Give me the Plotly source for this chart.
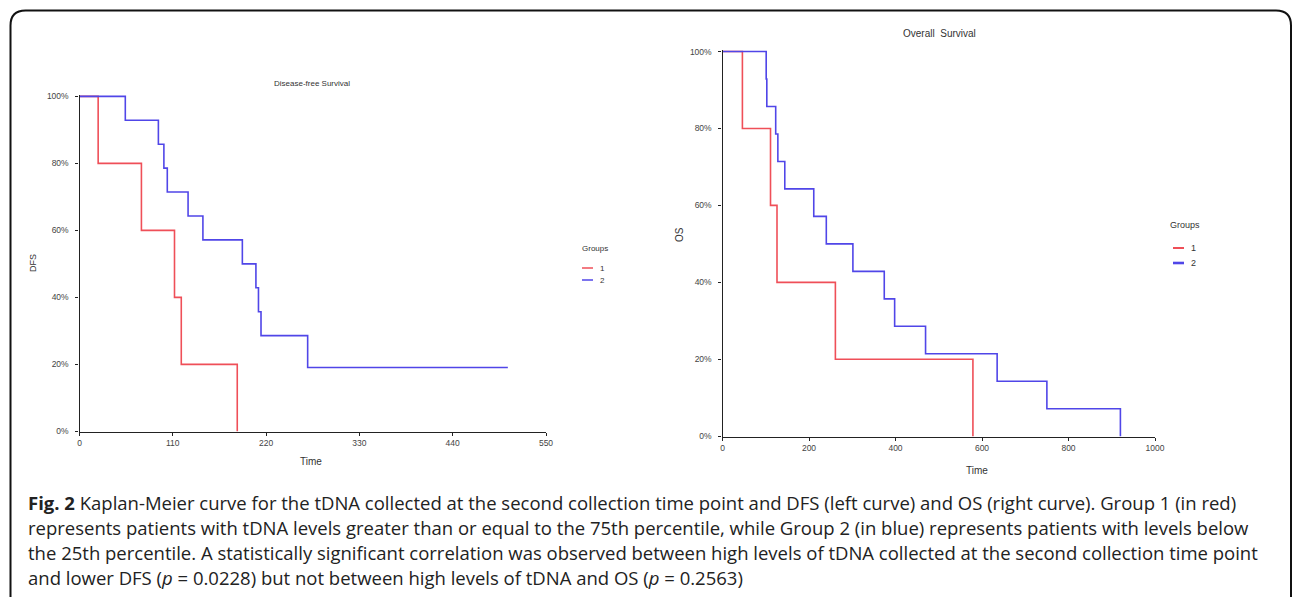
import plotly.graph_objects as go

W, H = 1293, 597

# ---------------- data ----------------
dfs_g1_time = [0, 22, 73, 112, 120, 186]
dfs_g1_surv = [1.0, 0.80, 0.60, 0.40, 0.20, 0.0]
dfs_g2_time = [0, 54, 93, 99.5, 103.5, 128, 145.5, 192, 208, 211, 214, 269, 505]
dfs_g2_surv = [1.0, 0.9286, 0.8571, 0.7857, 0.7143, 0.6429, 0.5714, 0.50, 0.4286, 0.3571, 0.2857, 0.1905, 0.1905]

os_g1_time = [0, 46, 111, 126, 261, 579]
os_g1_surv = [1.0, 0.80, 0.60, 0.40, 0.20, 0.0]
os_g2_time = [0, 101, 102.5, 123, 128, 144, 211, 240, 301.5, 374, 398, 469.5, 635, 750, 920]
os_g2_surv = [1.0, 0.9286, 0.8571, 0.7857, 0.7143, 0.6429, 0.5714, 0.50, 0.4286, 0.3571, 0.2857, 0.2143, 0.1429, 0.0714, 0.0]

y_tickvals = [0, 0.2, 0.4, 0.6, 0.8, 1.0]
y_ticktext = ["0%", "20%", "40%", "60%", "80%", "100%"]
dfs_xticks = [0, 110, 220, 330, 440, 550]
os_xticks = [0, 200, 400, 600, 800, 1000]
group_names = ["1", "2"]
legend_title = "Groups"

caption_lines = [
    "<b>Fig. 2</b> Kaplan-Meier curve for the tDNA collected at the second collection time point and DFS (left curve) and OS (right curve). Group 1 (in red)",
    "represents patients with tDNA levels greater than or equal to the 75th percentile, while Group 2 (in blue) represents patients with levels below",
    "the 25th percentile. A statistically significant correlation was observed between high levels of tDNA collected at the second collection time point",
    "and lower DFS (<i>p</i> = 0.0228) but not between high levels of tDNA and OS (<i>p</i> = 0.2563)",
]

RED = "#ef4f58"
BLUE = "#5046e8"
group_colors = [RED, BLUE]


def fx(px):
    return px / W


def fy(py):
    return 1 - py / H


fig = go.Figure()

fig.add_trace(go.Scatter(x=dfs_g1_time, y=dfs_g1_surv, mode="lines", line=dict(color=RED, width=1.6, shape="hv"),
                         name=group_names[0], xaxis="x", yaxis="y"))
fig.add_trace(go.Scatter(x=dfs_g2_time, y=dfs_g2_surv, mode="lines", line=dict(color=BLUE, width=1.6, shape="hv"),
                         name=group_names[1], xaxis="x", yaxis="y"))
fig.add_trace(go.Scatter(x=os_g1_time, y=os_g1_surv, mode="lines", line=dict(color=RED, width=1.6, shape="hv"),
                         name=group_names[0], xaxis="x2", yaxis="y2"))
fig.add_trace(go.Scatter(x=os_g2_time, y=os_g2_surv, mode="lines", line=dict(color=BLUE, width=1.6, shape="hv"),
                         name=group_names[1], xaxis="x2", yaxis="y2"))

NARROW = "Liberation Sans Narrow, Arial Narrow, Liberation Sans, Arial, sans-serif"
tickfont = dict(family=NARROW, size=8.5, color="#444")
axis_common = dict(showgrid=False, zeroline=False, showline=True, linecolor="#222", linewidth=1.3,
                   ticks="outside", ticklen=3, tickcolor="#222", tickwidth=1.2, tickfont=tickfont,
                   automargin=False)

fig.update_layout(
    width=W, height=H,
    margin=dict(l=0, r=0, t=0, b=0, autoexpand=False),
    paper_bgcolor="white", plot_bgcolor="white",
    xaxis=dict(domain=[fx(79.5), fx(546)], range=[0, 550], tickvals=dfs_xticks, anchor="y", **axis_common),
    yaxis=dict(domain=[fy(432), fy(95)], range=[-0.002, 1.004], tickvals=y_tickvals, ticktext=y_ticktext,
               anchor="x", ticklabelstandoff=5, **axis_common),
    xaxis2=dict(domain=[fx(722.5), fx(1155)], range=[0, 1000], tickvals=os_xticks, anchor="y2", **axis_common),
    yaxis2=dict(domain=[fy(437), fy(50)], range=[-0.002, 1.004], tickvals=y_tickvals, ticktext=y_ticktext,
                anchor="x2", ticklabelstandoff=5, **axis_common),
    showlegend=False,
)

small = dict(family="Liberation Sans, Arial, sans-serif", color="#333")
ann = []
ann.append(dict(x=fx(312), y=fy(83), text="Disease-free Survival", font=dict(size=8, **small)))
ann.append(dict(x=fx(939), y=fy(33), text="Overall  Survival", font=dict(size=10, **small)))
ann.append(dict(x=fx(311), y=fy(461), text="Time", font=dict(size=10, **small)))
ann.append(dict(x=fx(977), y=fy(470), text="Time", font=dict(size=10, **small)))
ann.append(dict(x=fx(33), y=fy(263), text="DFS", textangle=-90, font=dict(size=9, **small)))
ann.append(dict(x=fx(680), y=fy(235), text="OS", textangle=-90, font=dict(size=10, **small)))

# legends (left chart and right chart)
legends = [
    dict(title_xy=(595, 248), line_x=(582, 593), ys=(268, 280), size=8, widths=(1.5, 1.5)),
    dict(title_xy=(1185, 225), line_x=(1173, 1184), ys=(248, 263), size=9, widths=(2, 2.6)),
]
shapes = []
for lg in legends:
    ann.append(dict(x=fx(lg["title_xy"][0]), y=fy(lg["title_xy"][1]), text=legend_title,
                    font=dict(size=lg["size"], **small)))
    for name, col, yy, wd in zip(group_names, group_colors, lg["ys"], lg["widths"]):
        shapes.append(dict(type="line", xref="paper", yref="paper", x0=fx(lg["line_x"][0]), x1=fx(lg["line_x"][1]),
                           y0=fy(yy), y1=fy(yy), line=dict(color=col, width=wd)))
        ann.append(dict(x=fx(lg["line_x"][1] + 5), y=fy(yy), text=name, xanchor="left",
                        font=dict(size=lg["size"], **small)))

for a in ann:
    a.setdefault("xanchor", "center")
    a.update(xref="paper", yref="paper", showarrow=False, yanchor="middle")

cap_y = [502, 527, 552, 577]
for line, yy in zip(caption_lines, cap_y):
    ann.append(dict(x=fx(26), y=fy(yy), xref="paper", yref="paper", showarrow=False, xanchor="left",
                    yanchor="middle", text=line, font=dict(family="Open Sans, sans-serif", size=18.5, color="#222")))

# rounded frame around the figure
r = 15
x0, y0, x1, y1 = 10.5, 10.5, 1291, 640
path = (f"M {fx(x0)},{fy(y1)} L {fx(x0)},{fy(y0 + r)} Q {fx(x0)},{fy(y0)} {fx(x0 + r)},{fy(y0)} "
        f"L {fx(x1 - r)},{fy(y0)} Q {fx(x1)},{fy(y0)} {fx(x1)},{fy(y0 + r)} L {fx(x1)},{fy(y1)}")
shapes.append(dict(type="path", path=path, xref="paper", yref="paper", line=dict(color="#111", width=2)))

fig.update_layout(annotations=ann, shapes=shapes)

fig.write_html("out.html", config={"displayModeBar": False},
               post_script="document.body.style.margin='0';document.body.style.overflow='hidden';")
